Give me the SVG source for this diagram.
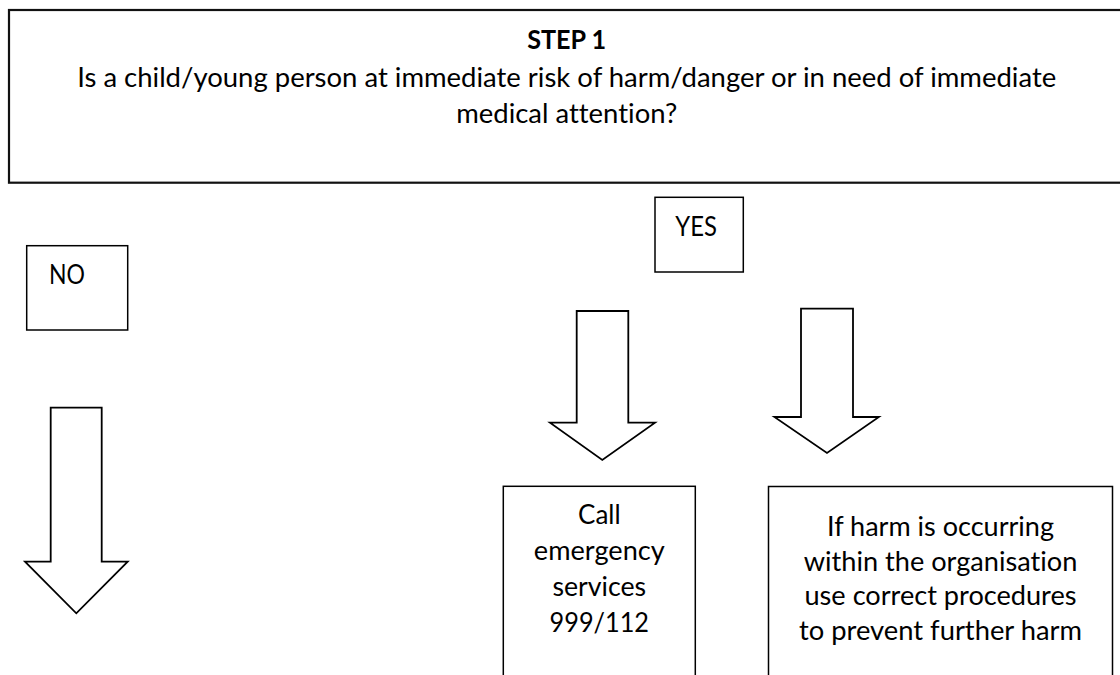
<svg xmlns="http://www.w3.org/2000/svg" width="1120" height="675" viewBox="0 0 1120 675">
<style>
  .box { fill: #ffffff; stroke: #000000; stroke-width: 1.5; }
  .top { stroke-width: 2.2; stroke: #111111; }
  .arrow { fill: #ffffff; stroke: #000000; stroke-width: 1.8; stroke-linejoin: miter; }
  text { font-family: Lato, "Open Sans", "Liberation Sans", sans-serif; font-size: 27px; fill: #000000; font-variant-ligatures: none; }
  .c { text-anchor: middle; }
  .b { font-weight: bold; }
</style>
<rect width="1120" height="675" fill="#ffffff"/>
<g id="step1">
  <rect class="box top" x="9" y="10" width="1115" height="172.7"/>
  <text class="c b" x="566.7" y="49.3" textLength="79" lengthAdjust="spacingAndGlyphs">STEP 1</text>
  <text class="c" x="566.7" y="87.3" textLength="979" lengthAdjust="spacingAndGlyphs">Is a child/young person at immediate risk of harm/danger or in need of immediate</text>
  <text class="c" x="566.7" y="123.3" textLength="221" lengthAdjust="spacingAndGlyphs">medical attention?</text>
</g>
<g id="yes">
  <rect class="box" x="655" y="197.3" width="88.3" height="74.7"/>
  <text x="675.3" y="235.7" textLength="41.6" lengthAdjust="spacingAndGlyphs">YES</text>
</g>
<g id="no">
  <rect class="box" x="26.7" y="245.7" width="101" height="84.3"/>
  <text x="49" y="284.3" textLength="36" lengthAdjust="spacingAndGlyphs">NO</text>
</g>
<g id="call">
  <rect class="box" x="503.3" y="486.3" width="192" height="220"/>
  <text class="c" x="599.3" y="524" textLength="42.6" lengthAdjust="spacingAndGlyphs">Call</text>
  <text class="c" x="599.3" y="560" textLength="130.9" lengthAdjust="spacingAndGlyphs">emergency</text>
  <text class="c" x="599.3" y="595.5" textLength="93.7" lengthAdjust="spacingAndGlyphs">services</text>
  <text class="c" x="599.3" y="631.5" textLength="99.4" lengthAdjust="spacingAndGlyphs">999/112</text>
</g>
<g id="harm">
  <rect class="box" x="768.5" y="486.5" width="344" height="220"/>
  <text class="c" x="940.5" y="535.5" textLength="227" lengthAdjust="spacingAndGlyphs">If harm is occurring</text>
  <text class="c" x="940.5" y="570.5" textLength="273.6" lengthAdjust="spacingAndGlyphs">within the organisation</text>
  <text class="c" x="940.5" y="605" textLength="272" lengthAdjust="spacingAndGlyphs">use correct procedures</text>
  <text class="c" x="940.5" y="639.5" textLength="283" lengthAdjust="spacingAndGlyphs">to prevent further harm</text>
</g>
<g id="connectors">
  <polygon class="arrow" points="50.7,407.7 101.7,407.7 101.7,561.7 127.7,561.7 76.3,613.3 25,561.7 50.7,561.7"/>
  <polygon class="arrow" points="576.7,311 628.3,311 628.3,422.7 655,422.7 602.3,460 550,422.7 576.7,422.7"/>
  <polygon class="arrow" points="801,308.7 853,308.7 853,417 878.9,417 827,453 774.4,417 801,417"/>
</g>
</svg>
